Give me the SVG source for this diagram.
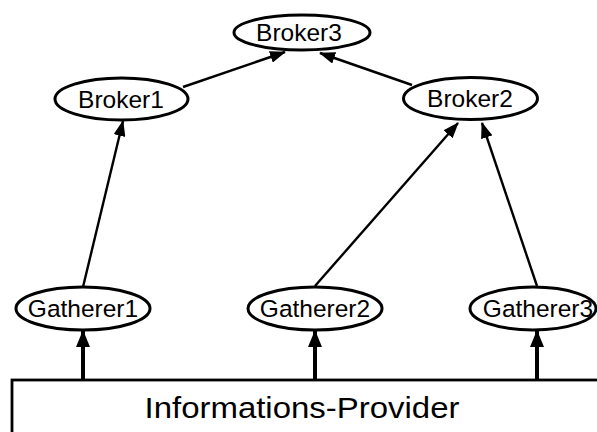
<svg xmlns="http://www.w3.org/2000/svg" width="597" height="432" viewBox="0 0 597 432">
  <defs>
    <marker id="head" markerUnits="userSpaceOnUse" markerWidth="16" markerHeight="12" refX="15" refY="6" orient="auto">
      <path d="M0,0 L16,6 L0,12 Z" fill="#000"/>
    </marker>
    <marker id="headBold" markerUnits="userSpaceOnUse" markerWidth="17" markerHeight="14" refX="16" refY="7" orient="auto">
      <path d="M0,0 L17,7 L0,14 Z" fill="#000"/>
    </marker>
  </defs>
  <style>
    .node ellipse { fill: #fff; stroke: #000; stroke-width: 3; }
    .node text { font-family: "Liberation Sans", Arial, sans-serif; font-size: 24.5px; fill: #000; text-anchor: middle; }
    .edge { stroke: #000; stroke-width: 2.4; fill: none; marker-end: url(#head); }
    .feed { stroke: #000; stroke-width: 4; fill: none; marker-end: url(#headBold); }
    .box rect { fill: #fff; stroke: #000; stroke-width: 2.8; }
    .box text { font-family: "Liberation Sans", Arial, sans-serif; font-size: 30px; fill: #000; text-anchor: middle; }
  </style>

  <!-- data source -->
  <g id="provider" class="box">
    <rect x="12" y="380" width="600" height="80"/>
    <text x="302" y="418" textLength="315" lengthAdjust="spacingAndGlyphs">Informations-Provider</text>
  </g>

  <g id="connectors">
    <line class="edge" x1="83" y1="287" x2="123" y2="121"/>
    <line class="edge" x1="315" y1="286" x2="458" y2="123"/>
    <line class="edge" x1="537" y1="286" x2="482" y2="123"/>
    <line class="edge" x1="183" y1="87" x2="285" y2="52"/>
    <line class="edge" x1="412" y1="85" x2="320" y2="53"/>
    <line class="feed" x1="83" y1="380" x2="83" y2="331"/>
    <line class="feed" x1="315" y1="380" x2="315" y2="331"/>
    <line class="feed" x1="537" y1="380" x2="537" y2="331"/>
  </g>

  <g id="broker3" class="node">
    <ellipse cx="302" cy="32.5" rx="68" ry="17.5"/>
    <text x="299" y="41">Broker3</text>
  </g>
  <g id="broker1" class="node">
    <ellipse cx="121.5" cy="99" rx="66.5" ry="21"/>
    <text x="121" y="107.5">Broker1</text>
  </g>
  <g id="broker2" class="node">
    <ellipse cx="470.5" cy="98.5" rx="67" ry="21"/>
    <text x="470" y="107">Broker2</text>
  </g>
  <g id="gatherer1" class="node">
    <ellipse cx="83" cy="308.5" rx="67" ry="21.5"/>
    <text x="83" y="317">Gatherer1</text>
  </g>
  <g id="gatherer2" class="node">
    <ellipse cx="315" cy="308.5" rx="67" ry="21.5"/>
    <text x="315" y="317">Gatherer2</text>
  </g>
  <g id="gatherer3" class="node">
    <ellipse cx="533" cy="308.5" rx="63" ry="21.5"/>
    <text x="538" y="317">Gatherer3</text>
  </g>
</svg>
